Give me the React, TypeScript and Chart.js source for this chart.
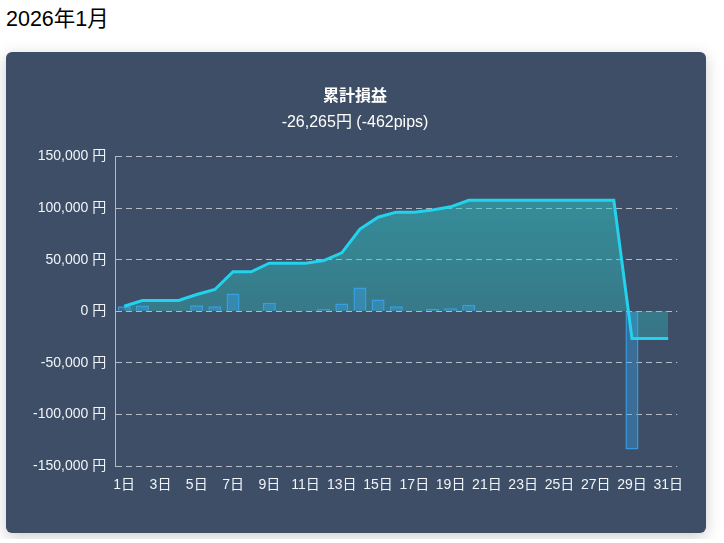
import { useEffect, useRef } from 'react';
import { Chart, registerables } from 'chart.js';

Chart.register(...registerables);

const dayLabels = [
	'1日', '2日', '3日', '4日', '5日', '6日', '7日', '8日', '9日', '10日',
	'11日', '12日', '13日', '14日', '15日', '16日', '17日', '18日', '19日', '20日',
	'21日', '22日', '23日', '24日', '25日', '26日', '27日', '28日', '29日', '30日', '31日'
];

// daily profit/loss (yen)
const dailyPnl = [
	4900, 5600, 0, 0, 5800, 4800, 17200, 0, 8300, 0,
	0, 2500, 7500, 23000, 11500, 4900, 0, 2200, 3000, 6300,
	0, 0, 0, 0, 0, 0, 0, 0, -133765, 0, 0
];

// running total (yen)
const cumulativePnl = [
	4900, 10500, 10500, 10500, 16300, 21100, 38300, 38300, 46600, 46600,
	46600, 49100, 56600, 79600, 91100, 96000, 96000, 98200, 101200, 107500,
	107500, 107500, 107500, 107500, 107500, 107500, 107500, 107500, -26265, -26265, -26265
];

const yTicks = { min: -150000, max: 150000, step: 50000 };

const titleText = '累計損益';
const subtitleText = '-26,265円 (-462pips)';

const fontFamily = "Arial, 'Liberation Sans', 'Noto Sans CJK JP', sans-serif";

export default function App() {
	const canvasRef = useRef<HTMLCanvasElement>(null);

	useEffect(() => {
		document.body.style.margin = '0';
		const chart = new Chart(canvasRef.current?.getContext('2d') as CanvasRenderingContext2D, {
			type: 'bar',
			data: {
				labels: dayLabels,
				datasets: [
					{
						type: 'line',
						label: '累計',
						data: cumulativePnl,
						borderColor: 'rgb(34, 211, 238)',
						borderWidth: 3,
						pointRadius: 0,
						tension: 0,
						fill: 'origin',
						backgroundColor: (ctx: any) => {
							const area = ctx.chart.chartArea;
							if (!area) return 'rgba(45, 205, 205, 0.35)';
							const g = ctx.chart.ctx.createLinearGradient(0, area.top, 0, area.bottom);
							g.addColorStop(0, 'rgba(45, 205, 205, 0.56)');
							g.addColorStop(1, 'rgba(45, 205, 205, 0.12)');
							return g;
						}
					} as any,
					{
						type: 'bar',
						label: '日別',
						data: dailyPnl,
						backgroundColor: 'rgba(54, 162, 235, 0.38)',
						borderColor: 'rgba(54, 162, 235, 0.9)',
						borderWidth: 1.5
					}
				]
			},
			options: {
				animation: false,
				responsive: true,
				maintainAspectRatio: false,
				layout: {
					padding: { left: 2, right: 0, top: 0, bottom: 20 }
				},
				scales: {
					x: {
						grid: { display: false, drawTicks: true, tickLength: 8 },
						border: { display: false },
						ticks: {
							color: '#f1f5f9',
							padding: 3,
							maxRotation: 0,
							font: { size: 14, family: fontFamily }
						}
					},
					y: {
						min: yTicks.min,
						max: yTicks.max,
						grid: {
							color: 'rgba(255, 255, 255, 0.62)',
							drawTicks: false
						},
						border: {
							display: true,
							color: 'rgba(255, 255, 255, 0.62)',
							dash: [6, 4]
						},
						ticks: {
							stepSize: yTicks.step,
							color: '#f1f5f9',
							padding: 9,
							font: { size: 14, family: fontFamily },
							callback: (value) => Number(value).toLocaleString('ja-JP') + ' 円'
						}
					}
				},
				plugins: {
					legend: { display: false },
					tooltip: { enabled: false },
					filler: { drawTime: 'beforeDatasetsDraw' },
					title: {
						display: true,
						text: titleText,
						color: '#ffffff',
						font: { size: 16, weight: 'bold', family: fontFamily },
						padding: { top: 19, bottom: 7 }
					},
					subtitle: {
						display: true,
						text: subtitleText,
						color: '#ffffff',
						font: { size: 16, family: fontFamily },
						padding: { top: 0, bottom: 24 }
					}
				}
			}
		});
		return () => {
			chart.destroy();
		};
	}, []);

	return (
		<div style={{ padding: '6px', fontFamily }}>
			<div style={{ fontSize: 21.5, lineHeight: '26px', margin: 0, color: '#000' }}>2026年1月</div>
			<div
				style={{
					marginTop: 20,
					background: '#3d4e66',
					borderRadius: 6,
					boxShadow: '0 4px 16px rgba(0, 0, 0, 0.2)',
					padding: '16px 20px 16px 16px',
					width: 664,
					height: 449
				}}
			>
				<div style={{ position: 'relative', width: '100%', height: '100%' }}>
					<canvas ref={canvasRef}></canvas>
				</div>
			</div>
		</div>
	);
}
